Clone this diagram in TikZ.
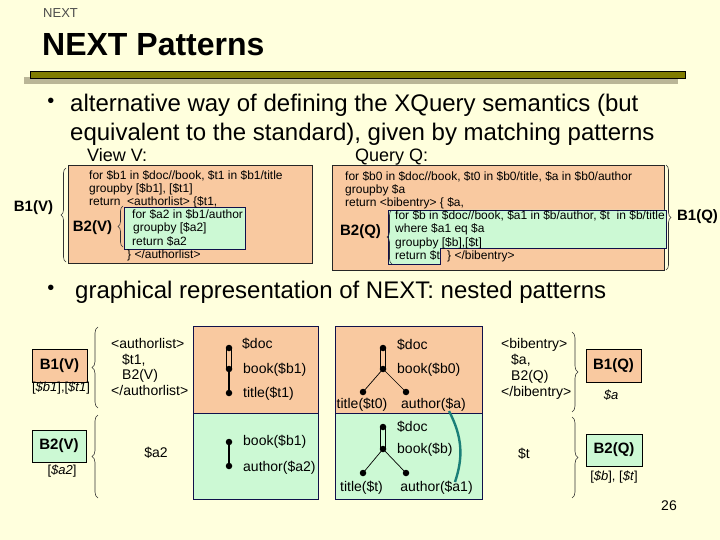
\documentclass[tikz,border=0pt]{standalone}
\usepackage{fontspec}
\setmainfont{Liberation Sans}
\usetikzlibrary{decorations.pathreplacing}
\definecolor{bgc}{HTML}{FFFFDD}
\definecolor{peach}{HTML}{F9C9A0}
\definecolor{mint}{HTML}{CCF9D4}
\definecolor{olivebar}{HTML}{807C00}
\definecolor{shadowc}{HTML}{BAB697}
\definecolor{navy}{HTML}{10104A}
\definecolor{tealc}{HTML}{1A7F78}
\newcommand\fsz[1]{\fontsize{#1}{#1}\selectfont}
\pgfdeclarelayer{bglayer}
\pgfdeclarelayer{back}
\pgfsetlayers{bglayer,back,main}
\tikzset{
  code/.style={anchor=base west,inner sep=0pt,font=\fsz{12},yshift=-4.3pt},
  lbl/.style={anchor=base west,inner sep=0pt,font=\fsz{14},yshift=-5pt},
  clbl/.style={anchor=base,inner sep=0pt,font=\fsz{14},yshift=-5pt},
  sublbl/.style={anchor=base,inner sep=0pt,font=\fsz{13},yshift=-4.7pt},
  blabel/.style={inner sep=0pt,font=\fsz{15}\bfseries},
  bigtext/.style={anchor=base west,inner sep=0pt,font=\fsz{24},yshift=-8.5pt},
  headtext/.style={anchor=base west,inner sep=0pt,font=\fsz{18},yshift=-6.4pt},
  patbox/.style={draw=black,line width=0.8pt,font=\fsz{15}\bfseries,inner sep=0pt},
  dot/.style={circle,fill=black,inner sep=0pt,minimum size=6.5pt},
  dbl/.style={line width=1.2pt,double distance=3.6pt},
  sgl/.style={line width=1.2pt},
  thinedge/.style={line width=0.7pt},
  lbrace/.style={decorate,decoration={brace,amplitude=5pt},line width=0.6pt,draw=black!80},
  bbrace/.style={decorate,decoration={brace,amplitude=6pt},line width=0.6pt,draw=black!80},
}
\begin{document}
\begin{tikzpicture}[x=1pt,y=-1pt]
\begin{pgfonlayer}{bglayer}
\fill[bgc] (0,0) rectangle (720,540);
% tree panels
\draw[fill=peach,draw=navy,line width=0.9pt] (193,326) rectangle (318,413);
\draw[fill=mint,draw=navy,line width=0.9pt] (193,413) rectangle (318,499);
\draw[fill=peach,draw=navy,line width=0.9pt] (335,326) rectangle (482,413);
\draw[fill=mint,draw=navy,line width=0.9pt] (335,413) rectangle (482,499);
\end{pgfonlayer}
\useasboundingbox (0,0) rectangle (720,540);

% header
\node[anchor=base west,inner sep=0pt,font=\fsz{13},text=black!70,yshift=-4.7pt] (hdr) at (43,13) {NEXT};
\node[anchor=base west,inner sep=0pt,font=\fsz{32}\bfseries,yshift=-11.5pt] (title) at (42,44) {NEXT Patterns};
\fill[shadowc] (24,77) rectangle (678,84);
\draw[fill=olivebar,line width=0.8pt] (30,71) rectangle (685,78);

% bullet 1
\node[inner sep=0pt,font=\fsz{20}] (bul1) at (51,103) {\textbullet};
\node[bigtext] (t1a) at (70,103) {alternative way of defining the XQuery semantics (but};
\node[bigtext] (t1b) at (70,132) {equivalent to the standard), given by matching patterns};

\node[headtext] (viewv) at (87,155) {View V:};
\node[headtext] (queryq) at (355,155) {Query Q:};

% View V code box
\draw[fill=peach,draw=black!85,line width=0.7pt] (68,165) rectangle (312,263);
\draw[fill=mint,draw=navy,line width=0.9pt] (124,207) rectangle (245,249);
\node[code] (v1) at (89,175) {for \$b1 in \$doc//book, \$t1 in \$b1/title};
\node[code] (v2) at (89,188) {groupby [\$b1], [\$t1]};
\node[code] (v3) at (89,201) {return\ \ <authorlist> \{\$t1,};
\node[code] (v4) at (132,214) {for \$a2 in \$b1/author};
\node[code] (v5) at (133,227.5) {groupby [\$a2]};
\node[code] (v6) at (132,241) {return \$a2};
\node[code] (v7) at (127,254.5) {\} </authorlist>};
\node[blabel] (lb1v) at (33.5,208) {B1(V)};
\node[blabel] (lb2v) at (92.5,228) {B2(V)};
\draw[lbrace] (66,262) -- (66,168);
\draw[lbrace] (123,247) -- (123,206);

% Query Q code box
\draw[fill=peach,draw=black!85,line width=0.7pt] (332,165) rectangle (664,270);
\draw[fill=mint,draw=navy,line width=0.9pt] (388,210) -- (666,210) -- (666,248) -- (440,248) -- (440,264) -- (388,264) -- cycle;
\node[code] (q1) at (345,176) {for \$b0 in \$doc//book, \$t0 in \$b0/title, \$a in \$b0/author};
\node[code] (q2) at (345,189) {groupby \$a};
\node[code] (q3) at (345,202) {return <bibentry> \{ \$a,};
\node[code] (q4) at (395,215) {for \$b in \$doc//book, \$a1 in \$b/author, \$t\ \ in \$b/title};
\node[code] (q5) at (395,228.5) {where \$a1 eq \$a};
\node[code] (q6) at (395,242) {groupby [\$b],[\$t]};
\node[code] (q7) at (395,255.5) {return \$t};
\node[code] (q8) at (447,255.5) {\} </bibentry>};
\node[blabel] (lb2q) at (360.5,232) {B2(Q)};
\node[blabel] (lb1q) at (697.5,217) {B1(Q)};
\draw[lbrace] (392,264) -- (392,210);
\draw[lbrace] (666,165) -- (666,270);

% bullet 2
\node[inner sep=0pt,font=\fsz{20}] (bul2) at (51,290) {\textbullet};
\node[bigtext] (t2) at (75,290) {graphical representation of NEXT: nested patterns};

% left pattern boxes
\node[patbox,fill=peach,minimum width=55pt,minimum height=33pt] (pb1v) at (59.5,365.5) {B1(V)};
\node[sublbl] (sb1v) at (61,387) {[\textit{\$b1}],[\textit{\$t1}]};
\node[patbox,fill=mint,minimum width=54pt,minimum height=32pt] (pb2v) at (59,446) {B2(V)};
\node[sublbl] (sb2v) at (62,470) {[\textit{\$a2}]};
\draw[bbrace] (98,408) -- (98,327);
\draw[bbrace] (98,498) -- (98,415);

\node[lbl] (al1) at (111,343) {<authorlist>};
\node[lbl] (al2) at (122,359) {\$t1,};
\node[lbl] (al3) at (122,374) {B2(V)};
\node[lbl] (al4) at (111,390) {</authorlist>};
\node[clbl] (a2) at (156,452) {\$a2};

% V trees
\node[dot] (vd) at (229,348) {};
\node[dot] (vb) at (229,369) {};
\node[dot] (vt) at (229,393) {};
\node[lbl] (lvd) at (242,343) {\$doc};
\node[lbl] (lvb) at (243,368) {book(\$b1)};
\node[lbl] (lvt) at (243,392) {title(\$t1)};
\node[dot] (vb2) at (229,442) {};
\node[dot] (va2) at (229,466) {};
\node[lbl] (lvb2) at (243,440) {book(\$b1)};
\node[lbl] (lva2) at (243,466) {author(\$a2)};

% Q trees
\node[dot] (qd) at (383,348) {};
\node[dot] (qb) at (383,369) {};
\node[dot] (qt) at (363,392) {};
\node[dot] (qa) at (406,392) {};
\node[lbl] (lqd) at (397,344) {\$doc};
\node[lbl] (lqb) at (397,368) {book(\$b0)};
\node[clbl] (lqt) at (362,403) {title(\$t0)};
\node[clbl] (lqa) at (433.5,403) {author(\$a)};
\node[dot] (qd2) at (383,427) {};
\node[dot] (qb2) at (383,449) {};
\node[dot] (qt2) at (363,473) {};
\node[dot] (qa2) at (406,473) {};
\node[lbl] (lqd2) at (397,426) {\$doc};
\node[lbl] (lqb2) at (397,448) {book(\$b)};
\node[clbl] (lqt2) at (361.5,486) {title(\$t)};
\node[clbl] (lqa2) at (436.5,486) {author(\$a1)};

\coordinate (arcA) at (449,411);
\coordinate (arcB) at (455,482);

\begin{pgfonlayer}{back}
\draw[dbl,double=peach] (vd.center) -- (vb.center);
\draw[sgl] (vb.center) -- (vt.center);
\draw[sgl] (vb2.center) -- (va2.center);
\draw[dbl,double=peach] (qd.center) -- (qb.center);
\draw[thinedge] (qb.center) -- (qt.center);
\draw[thinedge] (qb.center) -- (qa.center);
\draw[dbl,double=mint] (qd2.center) -- (qb2.center);
\draw[thinedge] (qb2.center) -- (qt2.center);
\draw[thinedge] (qb2.center) -- (qa2.center);
\end{pgfonlayer}
\draw[tealc,line width=2.4pt] (arcA) .. controls (463,438) and (463,458) .. (arcB);

% right side
\node[lbl] (be1) at (501,343) {<bibentry>};
\node[lbl] (be2) at (511,359) {\$a,};
\node[lbl] (be3) at (511,375) {B2(Q)};
\node[lbl] (be4) at (501,391) {</bibentry>};
\node[clbl] (tq) at (524,453) {\$t};
\draw[bbrace] (572,332) -- (572,412);
\draw[bbrace] (572,417) -- (572,498);
\node[patbox,fill=peach,minimum width=55pt,minimum height=33pt] (pb1q) at (613.5,365.5) {B1(Q)};
\node[sublbl] (sb1q) at (611,395) {\textit{\$a}};
\node[patbox,fill=mint,minimum width=56pt,minimum height=32pt] (pb2q) at (614,450) {B2(Q)};
\node[sublbl] (sb2q) at (614,476) {[\textit{\$b}], [\textit{\$t}]};

\node[clbl] (pnum) at (669,505) {26};
\end{tikzpicture}
\end{document}
